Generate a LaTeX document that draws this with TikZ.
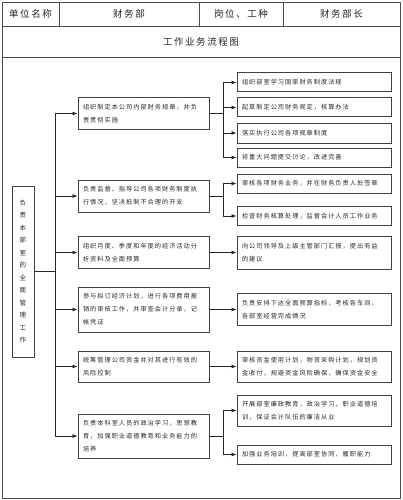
\documentclass[tikz,border=0pt]{standalone}
\usepackage{fontspec}
\setmainfont{Noto Sans CJK SC}[LetterSpace=16]
\usetikzlibrary{arrows.meta}
\tikzset{
  box/.style = {draw=black!75, line width=1pt, rectangle, inner sep=0pt,
                align=left, text=black!85, font=\fontsize{6.2}{13}\selectfont},
  midbox/.style = {box, minimum width=131pt, text width=121pt},
  sidebox/.style = {box, minimum width=154pt, text width=144pt},
  head/.style = {text=black!85, font=\fontsize{9.5}{12}\selectfont},
  link/.style = {draw=black!85, line width=0.7pt},
  arr/.style = {link, -{Latex[length=5pt,width=4pt]}}
}

\begin{document}
\begin{tikzpicture}[x=1pt, y=-1pt]
        \useasboundingbox (0,0) rectangle (402,500);
        % header table
        \draw[draw=black!70, line width=0.8pt] (2,2) rectangle (400,498);
        \draw[draw=black!70, line width=0.8pt] (2,26) -- (400,26);
        \draw[draw=black!70, line width=0.8pt] (2,57) -- (400,57);
        \draw[draw=black!70, line width=0.8pt] (59,2) -- (59,26);
        \draw[draw=black!70, line width=0.8pt] (199,2) -- (199,26);
        \draw[draw=black!70, line width=0.8pt] (283,2) -- (283,26);
        \node[head] (unit) at (30.5,14) {单位名称};
        \node[head] (dept) at (129,14) {财务部};
        \node[head] (post) at (241,14) {岗位、工种};
        \node[head] (chief) at (341.5,14) {财务部长};
        \node[head] (title) at (201,41.5) {工作业务流程图};

        % left box and bus
        \node[box, align=center, minimum width=22pt, minimum height=171pt,
              font=\fontsize{6.5}{12.5}\selectfont] (lead) at (23,271.5)
              {负\\责\\本\\部\\室\\的\\全\\面\\管\\理\\工\\作};
        \coordinate (bus) at (55,0);
        \coordinate (fork) at (223,0);

        % middle column
        \node[midbox, minimum height=31pt] (m1) at (143.5,113.5) {组织制定本公司内部财务规章，并负\\责贯彻实施};
        \node[midbox, minimum height=32pt] (m2) at (143.5,196) {负责监督、指导公司各项财务制度执\\行情况，坚决抵制不合理的开支};
        \node[midbox, minimum height=32pt] (m3) at (143.5,252.5) {组织月度、季度和年度的经济活动分\\析资料及全面预算};
        \node[midbox, minimum height=45pt] (m4) at (143.5,309.5) {参与拟订经济计划，进行各项费用报\\销的审核工作，并审查会计分录，记\\帐凭证};
        \node[midbox, minimum height=31pt] (m5) at (143.5,366.5) {统筹管理公司资金并对其进行有效的\\风险控制};
        \node[midbox, minimum height=44pt] (m6) at (143.5,436) {负责本科室人员的政治学习，思想教\\育，加强职业道德教育和业务能力的\\培养};

        % right column
        \node[sidebox, minimum height=19pt] (r1) at (314,82.5) {组织部室学习国家财务制度法规};
        \node[sidebox, minimum height=19pt] (r2) at (314,107.5) {起草制定公司财务规定，核算办法};
        \node[sidebox, minimum height=20pt] (r3) at (314,133) {落实执行公司各项规章制度};
        \node[sidebox, minimum height=19pt] (r4) at (314,157.5) {将重大问题提交讨论，改进完善};
        \node[sidebox, minimum height=19pt] (r5) at (314,183.5) {审核各项财务业务，并在财务负责人处签章};
        \node[sidebox, minimum height=19pt] (r6) at (314,216) {检查财务核算处理，监督会计人员工作业务};
        \node[sidebox, minimum height=33pt] (r7) at (314,252.5) {向公司领导及上级主管部门汇报，提出有益\\的建议};
        \node[sidebox, minimum height=32pt] (r8) at (314,309.5) {负责安排下达全面预算指标，考核各车间，\\各部室经营完成情况};
        \node[sidebox, minimum height=31pt] (r9) at (314,366.5) {审核资金使用计划，物资采购计划，规划资\\金收付，规避资金风险确保，确保资金安全};
        \node[sidebox, minimum height=31pt] (r10) at (314,410.5) {开展部室廉政教育，政治学习，职业道德培\\训，保证会计队伍的廉洁从业};
        \node[sidebox, minimum height=19pt] (r11) at (314,454.5) {加强业务培训，提高部室协同，履职能力};

        % left side connectors
        \draw[link] (lead.east) -- (lead.east -| bus);
        \draw[link] (bus |- m1.west) -- (bus |- m6.west);
        \foreach \i in {1,...,6}
            \draw[arr] (bus |- m\i.west) -- (m\i.west);

        % right side connectors
        \draw[link] (m1.east) -- (m1.east -| fork);
        \draw[link] (fork |- r1.west) -- (fork |- r4.west);
        \foreach \j in {1,...,4}
            \draw[arr] (fork |- r\j.west) -- (r\j.west);
        \draw[link] (m2.east) -- (m2.east -| fork);
        \draw[link] (fork |- r5.west) -- (fork |- r6.west);
        \foreach \j in {5,6}
            \draw[arr] (fork |- r\j.west) -- (r\j.west);
        \draw[arr] (m3.east) -- (r7.west);
        \draw[arr] (m4.east) -- (r8.west);
        \draw[arr] (m5.east) -- (r9.west);
        \draw[link] (m6.east) -- (m6.east -| fork);
        \draw[link] (fork |- r10.west) -- (fork |- r11.west);
        \foreach \j in {10,11}
            \draw[arr] (fork |- r\j.west) -- (r\j.west);
    \end{tikzpicture}
\end{document}
